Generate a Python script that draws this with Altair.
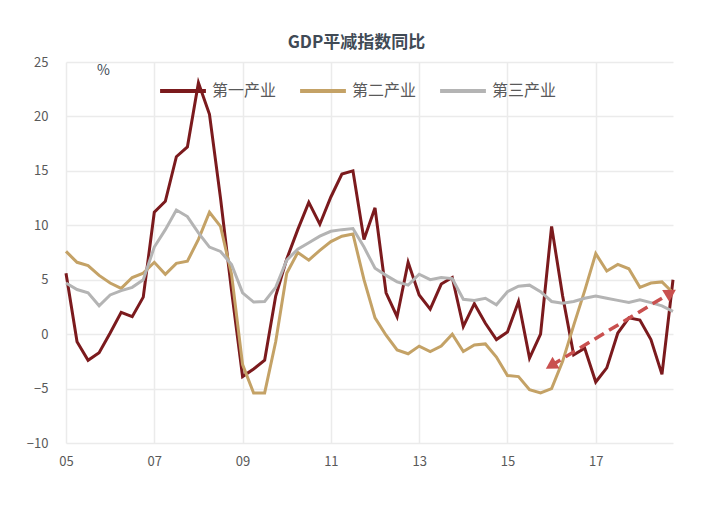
import altair as alt
import pandas as pd

years = [2005, 2006, 2007, 2008, 2009, 2010, 2011, 2012, 2013, 2014, 2015, 2016, 2017, 2018]
quarter_pos = [0.0, 0.25, 0.5, 0.75]

series_names = ["第一产业", "第二产业", "第三产业"]
series_colors = ["#7b1a1d", "#c4a266", "#b4b4b4"]

primary = [5.6, -0.7, -2.4, -1.7, 0.1, 2.0, 1.6, 3.4,
           11.2, 12.2, 16.3, 17.2, 23.1, 20.2, 12.5, 4.0,
           -3.9, -3.2, -2.4, 3.5, 6.9, 9.6, 12.1, 10.1,
           12.6, 14.7, 15.0, 8.7, 11.6, 3.8, 1.6, 6.6,
           3.6, 2.3, 4.6, 5.2, 0.7, 2.8, 1.0, -0.5,
           0.2, 3.0, -2.2, 0.0, 9.9, 3.5, -1.9, -1.3,
           -4.4, -3.1, 0.1, 1.5, 1.3, -0.5, -3.7, 5.0]
secondary = [7.6, 6.6, 6.3, 5.4, 4.7, 4.2, 5.2, 5.6,
             6.6, 5.5, 6.5, 6.7, 8.7, 11.2, 9.9, 5.5,
             -2.8, -5.4, -5.4, -0.7, 5.6, 7.5, 6.8, 7.7,
             8.5, 9.0, 9.2, 5.0, 1.5, -0.1, -1.45, -1.8,
             -1.1, -1.6, -1.1, 0.0, -1.6, -1.0, -0.9, -2.1,
             -3.8, -3.9, -5.1, -5.4, -5.0, -2.5, 0.8, 4.0,
             7.4, 5.8, 6.4, 6.0, 4.3, 4.7, 4.8, 3.8]
tertiary = [4.7, 4.1, 3.8, 2.6, 3.6, 4.0, 4.3, 5.0,
            8.0, 9.6, 11.4, 10.8, 9.3, 8.0, 7.6, 6.4,
            3.8, 2.95, 3.0, 4.3, 6.8, 7.8, 8.4, 9.0,
            9.45, 9.6, 9.7, 8.0, 6.05, 5.4, 4.8, 4.5,
            5.5, 5.0, 5.2, 5.1, 3.2, 3.1, 3.3, 2.7,
            3.9, 4.4, 4.5, 3.9, 3.0, 2.85, 3.0, 3.3,
            3.5, 3.3, 3.1, 2.9, 3.15, 2.9, 2.6, 2.1]

x_tick_values = [2005, 2007, 2009, 2011, 2013, 2015, 2017]
x_tick_labels = ["05", "07", "09", "11", "13", "15", "17"]
y_tick_values = [-10, -5, 0, 5, 10, 15, 20, 25]

arrow_x = [2015.985, 2018.70]
arrow_y = [-2.9, 3.8]

t_values = [y + q for y in years for q in quarter_pos]
rows = []
for name, vals in zip(series_names, [primary, secondary, tertiary]):
    for i, (t, v) in enumerate(zip(t_values, vals)):
        rows.append({"t": t, "v": v, "series": name, "order": i})
df = pd.DataFrame(rows)

label_map = "{" + ",".join(f"'{v}':'{l}'" for v, l in zip(x_tick_values, x_tick_labels)) + "}"

x_enc = alt.X("t:Q",
              scale=alt.Scale(domain=[2005, 2018.75], nice=False, zero=False),
              axis=alt.Axis(values=x_tick_values, format="d",
                            labelExpr=label_map + "[datum.label]",
                            grid=True, ticks=False, domain=False, labelFlush=False,
                            labelPadding=12, title=None))
y_enc = alt.Y("v:Q",
              scale=alt.Scale(domain=[-10, 25], nice=False, zero=False),
              axis=alt.Axis(values=y_tick_values, grid=True, ticks=False, domain=False,
                            labelPadding=18, title="%", titleAngle=0,
                            titleX=37, titleY=8, titleBaseline="middle",
                            titleFontWeight="normal", titleFontSize=14,
                            titleColor="#404a55"))

lines = alt.Chart(df).mark_line(strokeWidth=3).encode(
    x=x_enc,
    y=y_enc,
    color=alt.Color("series:N",
                    scale=alt.Scale(domain=series_names, range=series_colors),
                    sort=series_names,
                    legend=alt.Legend(orient="none", legendX=92, legendY=4,
                                      direction="horizontal", title=None,
                                      symbolType="stroke", symbolStrokeWidth=4,
                                      symbolSize=2100, labelFontSize=16,
                                      labelColor="#595959", labelOffset=4,
                                      columnPadding=15, padding=0)),
    order="order:Q",
)

arrow_df = pd.DataFrame({"t": arrow_x, "v": arrow_y})
arrow_line = alt.Chart(arrow_df).mark_line(
    color="#c9504f", strokeWidth=3.5, strokeDash=[11, 6]
).encode(x="t:Q", y="v:Q")

head_left = alt.Chart(arrow_df.iloc[[0]]).mark_point(
    shape="triangle-up", filled=True, size=190, angle=239,
    color="#c9504f", opacity=1
).encode(x="t:Q", y="v:Q")
head_right = alt.Chart(arrow_df.iloc[[1]]).mark_point(
    shape="triangle-up", filled=True, size=190, angle=59,
    color="#c9504f", opacity=1
).encode(x="t:Q", y="v:Q")

chart = alt.layer(lines, arrow_line, head_left, head_right).properties(
    width=607, height=381,
    title=alt.TitleParams("GDP平减指数同比", fontSize=17, fontWeight="bold",
                          color="#404a55", anchor="middle", dx=-13, offset=4),
    padding={"left": 58, "top": 54, "right": 30, "bottom": 40},
    autosize=alt.AutoSizeParams(type="none"),
).configure(
    font="Noto Sans CJK SC",
).configure_axis(
    labelFontSize=13, labelColor="#595959", gridColor="#ebebeb", gridWidth=1.5,
).configure_view(stroke=None)

chart.save("out.html", embed_options={"renderer": "svg", "actions": False})
